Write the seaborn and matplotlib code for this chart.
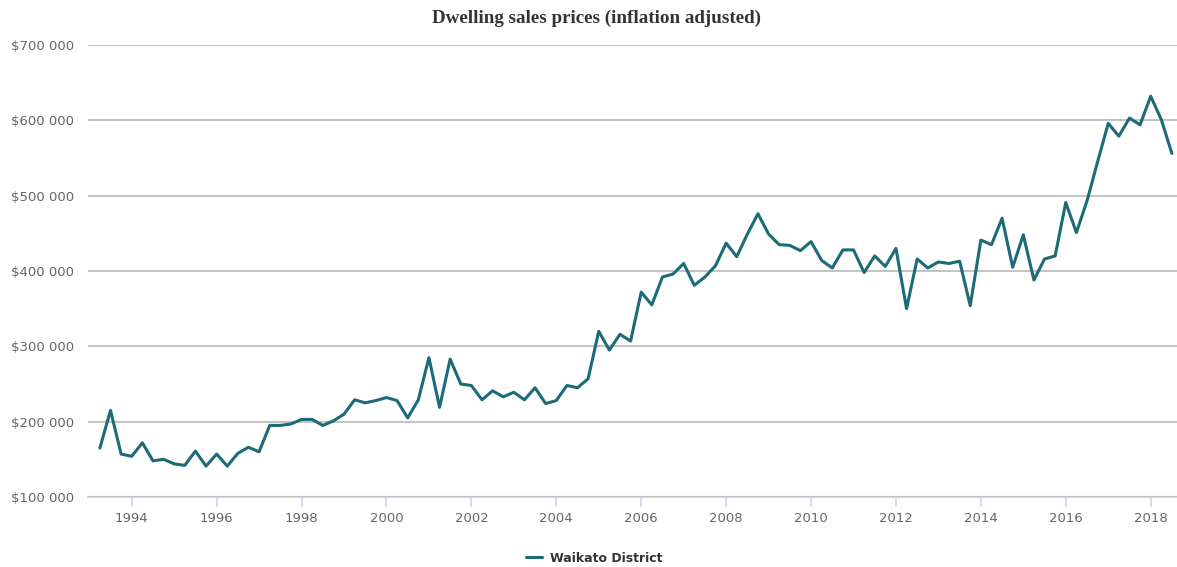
import numpy as np
import pandas as pd
import matplotlib
matplotlib.use("Agg")
import matplotlib.pyplot as plt
import seaborn as sns
from matplotlib.ticker import FuncFormatter

# ---- data (quarterly, inflation adjusted dwelling sales prices, NZD thousands) ----
series_name = "Waikato District"
start_year = 1993.25
prices_k = [
    165, 215, 157, 154, 172, 148, 150, 144, 142, 161,
    141, 157, 141, 158, 166, 160, 195, 195, 197, 203,
    203, 195, 201, 210, 229, 225, 228, 232, 228, 205,
    229, 285, 219, 283, 250, 248, 229, 241, 233, 239,
    229, 245, 224, 228, 248, 245, 257, 320, 295, 316,
    307, 372, 355, 392, 396, 410, 381, 392, 407, 437,
    419, 449, 476, 449, 435, 434, 427, 439, 414, 404,
    428, 428, 398, 420, 406, 430, 350, 416, 404, 412,
    410, 413, 354, 441, 435, 470, 405, 448, 388, 416,
    420, 491, 451, 493, 545, 596, 579, 603, 594, 632,
    601, 556,
]
quarters = [start_year + 0.25 * i for i in range(len(prices_k))]
x_ticks = list(range(1994, 2019, 2))
y_ticks = [100000, 200000, 300000, 400000, 500000, 600000, 700000]

df = pd.DataFrame({"year": quarters,
                   "price": [v * 1000 for v in prices_k],
                   "series": series_name})

sns.set_theme(style="white")
plt.rcParams["font.family"] = ["DejaVu Sans"]

fig = plt.figure(figsize=(11.77, 5.67), dpi=100)
ax = fig.add_axes([88 / 1177, 1 - 497 / 567, 1 - 88 / 1177, (497 - 45) / 567])

line_color = "#1b6b78"
sns.lineplot(data=df, x="year", y="price", hue="series", palette=[line_color],
             linewidth=2.2, ax=ax, legend=True)

ax.set_xlim(1992.97, 2018.62)
ax.set_ylim(100000, 700000)
ax.set_xticks(x_ticks)
ax.set_xticklabels([str(t) for t in x_ticks])
ax.set_yticks(y_ticks)
ax.yaxis.set_major_formatter(FuncFormatter(lambda v, p: "$" + f"{int(v):,}".replace(",", " ")))

ax.grid(axis="y", color="#c4c4c4", linewidth=1.5)
ax.grid(axis="x", visible=False)
ax.set_axisbelow(True)
for s in ["top", "right", "left"]:
    ax.spines[s].set_visible(False)
ax.spines["bottom"].set_color("#ccd6eb")
ax.spines["bottom"].set_linewidth(1.5)
ax.spines["bottom"].set_zorder(0.5)

ax.tick_params(axis="x", colors="#ccd6eb", length=7, width=1.2, direction="out", pad=4,
               labelcolor="#666666", labelsize=9.5, bottom=True)
ax.tick_params(axis="y", length=0, pad=10, labelcolor="#666666", labelsize=9.5)
ax.set_xlabel("")
ax.set_ylabel("")

fig.text(596 / 1177, 1 - 18 / 567, "Dwelling sales prices (inflation adjusted)",
         ha="center", va="center", fontsize=13.7, fontweight="bold",
         family=["Liberation Serif", "DejaVu Serif"], color="#333333")

leg = ax.legend(loc="center", bbox_to_anchor=(594 / 1177, 1 - 558 / 567),
                bbox_transform=fig.transFigure, frameon=False, handlelength=1.3,
                handletextpad=0.6, prop={"weight": "bold", "size": 9})
for t in leg.get_texts():
    t.set_color("#333333")

fig.savefig("out.png", dpi=100, facecolor="white")
